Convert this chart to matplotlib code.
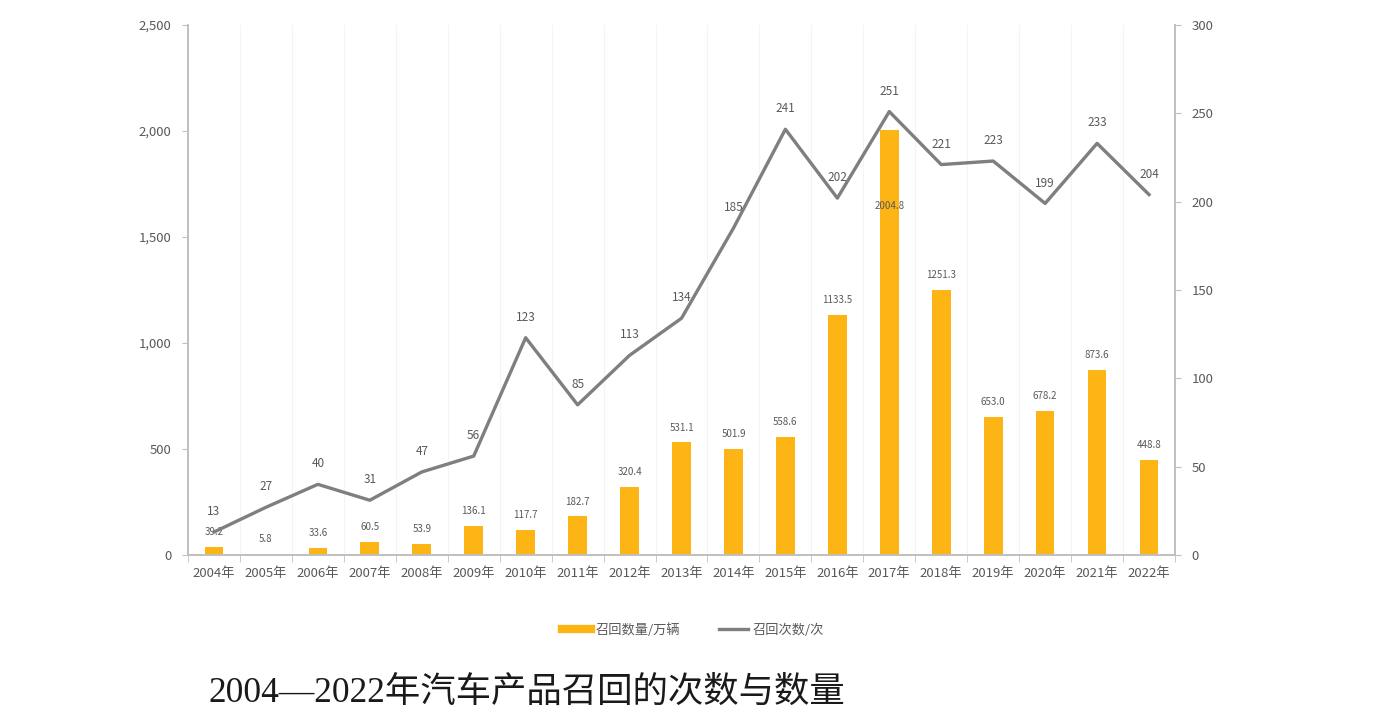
import numpy as np
import matplotlib
matplotlib.use('Agg')
from matplotlib import pyplot as plt
from matplotlib.lines import Line2D

plt.rcParams['font.family'] = ['Noto Sans CJK SC', 'DejaVu Sans']

# data
years = ['2004年', '2005年', '2006年', '2007年', '2008年', '2009年', '2010年',
         '2011年', '2012年', '2013年', '2014年', '2015年', '2016年', '2017年',
         '2018年', '2019年', '2020年', '2021年', '2022年']
recall_qty = [39.2, 5.8, 33.6, 60.5, 53.9, 136.1, 117.7, 182.7, 320.4, 531.1,
              501.9, 558.6, 1133.5, 2004.8, 1251.3, 653.0, 678.2, 873.6, 448.8]
recall_cnt = [13, 27, 40, 31, 47, 56, 123, 85, 113, 134, 185, 241, 202, 251,
              221, 223, 199, 233, 204]
qty_ticks = [0, 500, 1000, 1500, 2000, 2500]
cnt_ticks = [0, 50, 100, 150, 200, 250, 300]

bar_color = '#FDB515'
line_color = '#7F7F7F'
txt = '#595959'
spine = '#BFBFBF'

fig = plt.figure(figsize=(13.78, 7.22), dpi=100)
ax = fig.add_axes([188/1378, 1-555/722, (1175-188)/1378, (555-25)/722])
ax2 = ax.twinx()

x = np.arange(len(years))
ax.bar(x, recall_qty, width=0.36, color=bar_color, zorder=2)
top = int(np.argmax(recall_qty))
for xi, v in zip(x, recall_qty):
    # the tallest bar has its label pushed inside, under the line
    dy = -58 if xi == top else 7
    ax.annotate(f'{v:.1f}', (xi, v), xytext=(0, dy), textcoords='offset points',
                ha='center', va='bottom', fontsize=7, color=txt, zorder=4)

ax2.plot(x, recall_cnt, color=line_color, lw=2.4, zorder=3)
for xi, v in zip(x, recall_cnt):
    ax2.annotate(str(v), (xi, v), xytext=(0, 10), textcoords='offset points',
                 ha='center', va='bottom', fontsize=8.5, color=txt)

ax.set_xlim(-0.5, len(years) - 0.5)
ax.set_ylim(0, 2500)
ax2.set_ylim(0, 300)
ax.set_yticks(qty_ticks)
ax.set_yticklabels([f'{t:,}' for t in qty_ticks])
ax2.set_yticks(cnt_ticks)

ax.set_xticks(x)
ax.set_xticklabels(years)
ax.set_xticks(np.arange(len(years) + 1) - 0.5, minor=True)
ax.tick_params(axis='x', which='major', length=0, labelsize=9.5, colors=txt, pad=9)
ax.tick_params(axis='x', which='minor', length=5, color=spine)
ax.tick_params(axis='y', length=4, color=spine, labelsize=9.5, labelcolor=txt, pad=8)
ax2.tick_params(axis='y', length=4, color=spine, labelsize=9.5, labelcolor=txt, pad=8)

# faint vertical lines between categories
for b in np.arange(1, len(years)) - 0.5:
    ax.axvline(b, color='#F4F4F4', lw=0.8, zorder=0)

for a in (ax, ax2):
    a.spines['top'].set_visible(False)
    for s in ('left', 'right', 'bottom'):
        a.spines[s].set_color(spine)
        a.spines[s].set_linewidth(1.2)

handles = [Line2D([0], [0], color=bar_color, lw=6),
           Line2D([0], [0], color=line_color, lw=2.4)]
fig.legend(handles, ['召回数量/万辆', '召回次数/次'], loc='center',
           bbox_to_anchor=(693/1378, 1-630/722), ncol=2, frameon=False,
           fontsize=9.5, labelcolor=txt, handlelength=2.2, columnspacing=3.0,
           handletextpad=0.3)

fig.text(208/1378, 1-693/722, '2004—2022年汽车产品召回的次数与数量',
         family=['Liberation Serif', 'Noto Sans CJK SC'], fontsize=25.5,
         color='#1a1a1a', ha='left', va='center')

fig.savefig('out.png', dpi=100)
